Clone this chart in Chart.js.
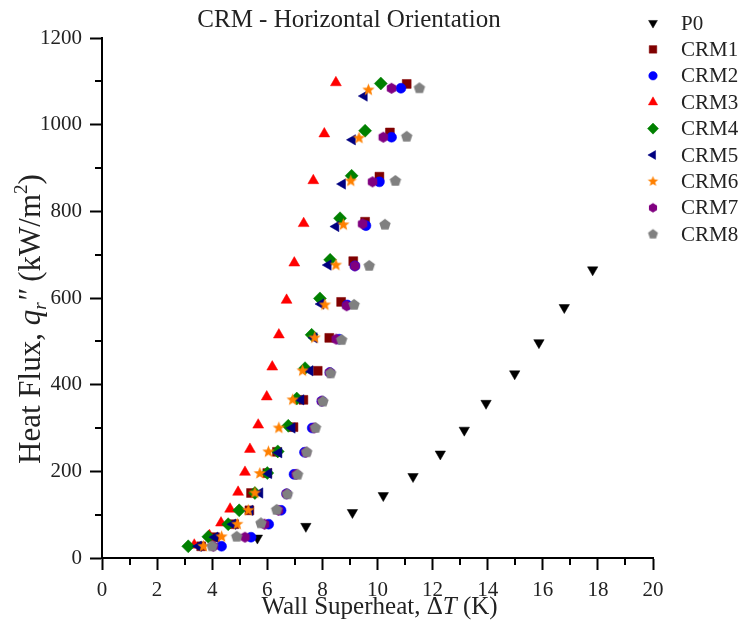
<!DOCTYPE html>
<html><head><meta charset="utf-8">
<script src="https://cdn.jsdelivr.net/npm/chart.js@4.4.1/dist/chart.umd.min.js"></script>
<style>html,body{margin:0;padding:0;background:#fff;}</style>
</head><body>
<canvas id="c" width="739" height="630"></canvas>
<script>
// ---- data ----
const chartTitle = "CRM - Horizontal Orientation";
const seriesNames = ["P0","CRM1","CRM2","CRM3","CRM4","CRM5","CRM6","CRM7","CRM8"];
const xTicks = [0,2,4,6,8,10,12,14,16,18,20];
const yTicks = [0,200,400,600,800,1000,1200];

const p0X = [5.64,7.40,9.09,10.21,11.29,12.28,13.15,13.94,14.98,15.86,16.78,17.81];
const p0Y = [46,73,105,144,188,240,295,357,425,497,578,665];

const crm1X = [3.60,4.10,4.80,5.35,5.41,6.00,6.35,6.95,7.31,7.83,8.25,8.68,9.12,9.55,10.07,10.45,11.06];
const crm1Y = [27,48,78,110,150,196,245,302,365,432,508,591,685,776,880,982,1094];

const crm2X = [4.34,5.41,6.05,6.50,6.70,6.97,7.35,7.63,7.98,8.27,8.61,8.90,9.18,9.58,10.07,10.51,10.85];
const crm2Y = [27,48,78,110,148,193,244,300,362,428,505,584,674,767,868,971,1084];

const crm3X = [3.35,3.90,4.32,4.65,4.94,5.19,5.37,5.67,5.98,6.18,6.42,6.70,6.98,7.32,7.67,8.07,8.49];
const crm3Y = [30,52,81,113,152,198,251,307,372,441,515,595,681,772,871,979,1097];

const crm4X = [3.13,3.86,4.58,4.98,5.55,6.00,6.38,6.76,7.07,7.37,7.61,7.91,8.28,8.64,9.06,9.55,10.12];
const crm4Y = [27,49,78,110,150,196,246,305,368,438,515,599,688,784,882,986,1095];

const crm5X = [3.50,4.10,4.75,5.37,5.73,6.05,6.42,6.90,7.22,7.55,7.70,7.95,8.21,8.49,8.73,9.09,9.52];
const crm5Y = [27,48,78,110,150,195,243,300,365,432,508,586,676,765,863,965,1066];

const crm6X = [3.68,4.34,4.91,5.31,5.55,5.73,6.04,6.42,6.92,7.28,7.72,8.09,8.49,8.76,9.03,9.33,9.67];
const crm6Y = [27,49,78,110,150,195,245,300,365,432,508,584,676,769,870,969,1080];

const crm7X = [4.04,5.19,5.90,6.40,6.70,7.05,7.40,7.70,7.98,8.27,8.50,8.88,9.18,9.46,9.82,10.21,10.51];
const crm7Y = [27,48,78,110,148,193,244,300,362,428,505,582,674,771,868,971,1084];

const crm8X = [4.00,4.89,5.77,6.34,6.73,7.10,7.43,7.75,8.02,8.30,8.70,9.15,9.70,10.27,10.65,11.06,11.52];
const crm8Y = [27,49,80,111,147,192,244,300,361,426,503,584,674,769,870,972,1084];

const colors = ["#000000","#800000","#0000ff","#ff0000","#008000","#000080","#ff8000","#800080","#808080"];

// ---- custom marker images ----
function polyImg(color, n, r, rotDeg, innerR){
  const s = Math.ceil(r*2+2);
  const cv = document.createElement('canvas'); cv.width = s; cv.height = s;
  const g = cv.getContext('2d'); g.fillStyle = color; g.beginPath();
  const pts = innerR ? n*2 : n;
  for(let i=0;i<pts;i++){
    const a = (rotDeg*Math.PI/180) + i*2*Math.PI/pts - Math.PI/2;
    const rr = innerR ? (i%2===0 ? r : innerR) : r;
    const x = s/2 + rr*Math.cos(a), y = s/2 + rr*Math.sin(a);
    if(i===0) g.moveTo(x,y); else g.lineTo(x,y);
  }
  g.closePath(); g.fill(); return cv;
}
const starImg = polyImg(colors[6],5,6.5,0,2.8);
const hexImg = polyImg(colors[7],6,5.5,0);
const pentImg = polyImg(colors[8],5,6,0);
const starImgS = polyImg(colors[6],5,5.5,0,2.4);
const hexImgS = polyImg(colors[7],6,4.7,0);
const pentImgS = polyImg(colors[8],5,5.2,0);

function pts(xs, ys){ return xs.map((x,i)=>({x:x, y:ys[i]})); }
const allX = [p0X,crm1X,crm2X,crm3X,crm4X,crm5X,crm6X,crm7X,crm8X];
const allY = [p0Y,crm1Y,crm2Y,crm3Y,crm4Y,crm5Y,crm6Y,crm7Y,crm8Y];
const styles = [
  {pointStyle:'triangle', rotation:180, radius:6},
  {pointStyle:'rect', rotation:0, radius:6.3},
  {pointStyle:'circle', rotation:0, radius:5},
  {pointStyle:'triangle', rotation:0, radius:6.3},
  {pointStyle:'rectRot', rotation:0, radius:6.5},
  {pointStyle:'triangle', rotation:-90, radius:6},
  {pointStyle:starImg, rotation:0, radius:6},
  {pointStyle:hexImg, rotation:0, radius:5},
  {pointStyle:pentImg, rotation:0, radius:6}
];
const legendImgs = {6: starImgS, 7: hexImgS, 8: pentImgS};

const datasets = seriesNames.map((name,i)=>({
  label: name,
  data: pts(allX[i], allY[i]),
  showLine: false,
  pointStyle: styles[i].pointStyle,
  rotation: styles[i].rotation,
  pointRadius: styles[i].radius,
  pointHoverRadius: styles[i].radius,
  backgroundColor: colors[i],
  borderColor: colors[i],
  pointBorderWidth: 0.5,
  order: seriesNames.length - 1 - i
}));

const SERIF = "'Liberation Serif','DejaVu Serif',serif";

function drawSegs(ctx, segs, x0, yBase){
  let x = x0;
  segs.forEach(s=>{
    ctx.font = (s.it ? 'italic ' : '') + s.size + 'px ' + SERIF;
    ctx.fillText(s.t, x, yBase + (s.dy||0));
    x += ctx.measureText(s.t).width;
  });
}
function segWidth(ctx, segs){
  let w = 0;
  segs.forEach(s=>{ ctx.font = (s.it ? 'italic ' : '') + s.size + 'px ' + SERIF; w += ctx.measureText(s.t).width; });
  return w;
}

const decorPlugin = {
  id: 'decor',
  afterDraw(chart){
    const ctx = chart.ctx;
    const xs = chart.scales.x, ys = chart.scales.y;
    const area = chart.chartArea;
    ctx.save();
    // minor ticks
    ctx.strokeStyle = '#000'; ctx.lineWidth = 2;
    for(let v=1; v<20; v+=2){
      const px = Math.round(xs.getPixelForValue(v));
      ctx.beginPath(); ctx.moveTo(px, area.bottom); ctx.lineTo(px, area.bottom+7); ctx.stroke();
    }
    for(let v=100; v<1200; v+=200){
      const py = Math.round(ys.getPixelForValue(v));
      ctx.beginPath(); ctx.moveTo(area.left, py); ctx.lineTo(area.left-7, py); ctx.stroke();
    }
    ctx.fillStyle = '#222';
    ctx.textBaseline = 'alphabetic'; ctx.textAlign = 'left';
    // title
    ctx.font = '25px ' + SERIF;
    const tw = ctx.measureText(chartTitle).width;
    ctx.fillText(chartTitle, 349 - tw/2, 27);
    // x title
    const xsegs = [{t:'Wall Superheat, \u0394',size:25},{t:'T',size:25,it:true},{t:' (K)',size:25}];
    const xw = segWidth(ctx, xsegs);
    drawSegs(ctx, xsegs, (area.left+area.right)/2 - xw/2 + 2, 614);
    // y title
    const ysegs = [{t:'Heat Flux, ',size:31},{t:'q',size:31,it:true},{t:'r',size:19,it:true,dy:6},
                   {t:'\u2033',size:31,it:true},{t:' (kW/m',size:31},{t:'2',size:19,dy:-13},{t:')',size:31}];
    const yw = segWidth(ctx, ysegs);
    ctx.translate(40, 319); ctx.rotate(-Math.PI/2);
    drawSegs(ctx, ysegs, -yw/2, 0);
    ctx.restore();
    // legend
    ctx.save();
    chart.data.datasets.forEach((ds,i)=>{
      const ly = 23 + i*26.4;
      ctx.fillStyle = ds.backgroundColor; ctx.strokeStyle = ds.borderColor; ctx.lineWidth = 0.5;
      const ps = legendImgs[i] || ds.pointStyle;
      Chart.helpers.drawPoint(ctx, {pointStyle: ps, rotation: ds.rotation, radius: ds.pointRadius*0.85, borderWidth: 0.5}, 653, ly);
      ctx.fillStyle = '#222'; ctx.font = '21px ' + SERIF; ctx.textBaseline = 'middle'; ctx.textAlign = 'left';
      ctx.fillText(ds.label, 681, ly + 1);
    });
    ctx.restore();
  }
};

new Chart(document.getElementById('c'), {
  type: 'scatter',
  data: { datasets },
  options: {
    responsive: false,
    devicePixelRatio: 1,
    animation: false,
    layout: { padding: { left: 0, right: 86, top: 38, bottom: 0 } },
    plugins: { legend: { display: false }, title: { display: false }, tooltip: { enabled: false } },
    scales: {
      x: {
        type: 'linear', min: 0, max: 20,
        afterFit(s){ s.height = 72; },
        afterBuildTicks(s){ s.ticks = xTicks.map(v=>({value:v})); },
        ticks: { stepSize: 2, color: '#222', padding: 8, font: { family: SERIF, size: 21 }, callback: v => String(v) },
        grid: { display: true, drawOnChartArea: false, drawTicks: true, tickLength: 12, tickColor: '#000', tickWidth: 2 },
        border: { display: true, color: '#000', width: 2 }
      },
      y: {
        type: 'linear', min: 0, max: 1200,
        afterFit(s){ s.width = 102; },
        afterBuildTicks(s){ s.ticks = yTicks.map(v=>({value:v})); },
        ticks: { stepSize: 200, color: '#222', padding: 8, font: { family: SERIF, size: 21 }, callback: v => String(v) },
        grid: { display: true, drawOnChartArea: false, drawTicks: true, tickLength: 12, tickColor: '#000', tickWidth: 2 },
        border: { display: true, color: '#000', width: 2 }
      }
    }
  },
  plugins: [decorPlugin]
});
</script>
</body></html>
